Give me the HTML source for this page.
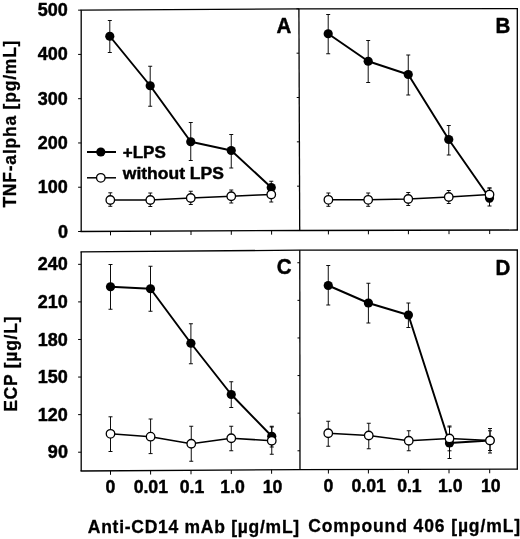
<!DOCTYPE html>
<html><head><meta charset="utf-8"><title>Figure</title>
<style>
html,body{margin:0;padding:0;background:#fff;}
svg{display:block;filter:blur(0.35px);}
text{font-family:"Liberation Sans", Arial, Helvetica, sans-serif;font-weight:bold;fill:#000;stroke:#000;stroke-width:0.45px;stroke-linejoin:round;}
.t{font-size:18px;}
.l{font-size:17px;}
.p{font-size:22.8px;stroke-width:0.5px;}
.x{font-size:17.5px;letter-spacing:0.65px;stroke-width:0.3px;}
</style></head><body>
<svg width="520" height="539" viewBox="0 0 520 539">
<rect width="520" height="539" fill="#fff"/>
<polyline points="80.5,10.15 299.7,8.85 518.0,8.6" stroke="#000" stroke-width="1.3" fill="none"/>
<polyline points="80.5,231.5 299.7,230.5 518.0,230.0" stroke="#000" stroke-width="1.3" fill="none"/>
<polyline points="80.5,251.8 299.7,250.2 518.0,250.0" stroke="#000" stroke-width="1.3" fill="none"/>
<polyline points="80.5,471.0 299.7,469.6 518.0,469.2" stroke="#000" stroke-width="1.3" fill="none"/>
<line x1="81.2" y1="10.15" x2="81.2" y2="231.50" stroke="#000" stroke-width="1.3"/>
<line x1="81.2" y1="251.80" x2="81.2" y2="471.00" stroke="#000" stroke-width="1.3"/>
<line x1="517.3" y1="8.60" x2="517.3" y2="230.00" stroke="#000" stroke-width="1.3"/>
<line x1="517.3" y1="250.00" x2="517.3" y2="469.20" stroke="#000" stroke-width="1.3"/>
<line x1="298.90" y1="8.85" x2="299.71" y2="230.50" stroke="#000" stroke-width="1.3"/>
<line x1="299.78" y1="250.20" x2="300.00" y2="469.60" stroke="#000" stroke-width="1.3"/>
<line x1="78.10" y1="10.15" x2="81.20" y2="10.15" stroke="#000" stroke-width="1"/>
<line x1="296.40" y1="8.85" x2="298.90" y2="8.85" stroke="#000" stroke-width="1"/>
<text transform="translate(67.9 16.18)" text-anchor="end" class="t">500</text>
<line x1="78.10" y1="54.42" x2="81.20" y2="54.42" stroke="#000" stroke-width="1"/>
<line x1="296.56" y1="53.18" x2="299.06" y2="53.18" stroke="#000" stroke-width="1"/>
<text transform="translate(67.9 60.44)" text-anchor="end" class="t">400</text>
<line x1="78.10" y1="98.69" x2="81.20" y2="98.69" stroke="#000" stroke-width="1"/>
<line x1="296.72" y1="97.51" x2="299.22" y2="97.51" stroke="#000" stroke-width="1"/>
<text transform="translate(67.9 104.7)" text-anchor="end" class="t">300</text>
<line x1="78.10" y1="142.96" x2="81.20" y2="142.96" stroke="#000" stroke-width="1"/>
<line x1="296.89" y1="141.84" x2="299.39" y2="141.84" stroke="#000" stroke-width="1"/>
<text transform="translate(67.9 148.97)" text-anchor="end" class="t">200</text>
<line x1="78.10" y1="187.23" x2="81.20" y2="187.23" stroke="#000" stroke-width="1"/>
<line x1="297.05" y1="186.17" x2="299.55" y2="186.17" stroke="#000" stroke-width="1"/>
<text transform="translate(67.9 193.23)" text-anchor="end" class="t">100</text>
<line x1="78.10" y1="231.50" x2="81.20" y2="231.50" stroke="#000" stroke-width="1"/>
<line x1="297.21" y1="230.50" x2="299.71" y2="230.50" stroke="#000" stroke-width="1"/>
<text transform="translate(67.9 237.5)" text-anchor="end" class="t">0</text>
<line x1="78.10" y1="264.33" x2="81.20" y2="264.33" stroke="#000" stroke-width="1"/>
<line x1="297.33" y1="262.74" x2="299.83" y2="262.74" stroke="#000" stroke-width="1"/>
<text transform="translate(67.9 270.38)" text-anchor="end" class="t">240</text>
<line x1="78.10" y1="301.90" x2="81.20" y2="301.90" stroke="#000" stroke-width="1"/>
<line x1="297.47" y1="300.35" x2="299.97" y2="300.35" stroke="#000" stroke-width="1"/>
<text transform="translate(67.9 307.95)" text-anchor="end" class="t">210</text>
<line x1="78.10" y1="339.48" x2="81.20" y2="339.48" stroke="#000" stroke-width="1"/>
<line x1="297.50" y1="337.96" x2="300.00" y2="337.96" stroke="#000" stroke-width="1"/>
<text transform="translate(67.9 345.53)" text-anchor="end" class="t">180</text>
<line x1="78.10" y1="377.06" x2="81.20" y2="377.06" stroke="#000" stroke-width="1"/>
<line x1="297.50" y1="375.57" x2="300.00" y2="375.57" stroke="#000" stroke-width="1"/>
<text transform="translate(67.9 383.1)" text-anchor="end" class="t">150</text>
<line x1="78.10" y1="414.63" x2="81.20" y2="414.63" stroke="#000" stroke-width="1"/>
<line x1="297.50" y1="413.18" x2="300.00" y2="413.18" stroke="#000" stroke-width="1"/>
<text transform="translate(67.9 420.68)" text-anchor="end" class="t">120</text>
<line x1="78.10" y1="452.21" x2="81.20" y2="452.21" stroke="#000" stroke-width="1"/>
<line x1="297.50" y1="450.79" x2="300.00" y2="450.79" stroke="#000" stroke-width="1"/>
<text transform="translate(67.9 458.25)" text-anchor="end" class="t">90</text>
<line x1="110.5" y1="231.37" x2="110.5" y2="235.37" stroke="#000" stroke-width="1"/>
<line x1="110.5" y1="470.81" x2="110.5" y2="474.81" stroke="#000" stroke-width="1"/>
<line x1="150.6" y1="231.18" x2="150.6" y2="235.18" stroke="#000" stroke-width="1"/>
<line x1="150.6" y1="470.56" x2="150.6" y2="474.56" stroke="#000" stroke-width="1"/>
<line x1="191.0" y1="231.00" x2="191.0" y2="235.00" stroke="#000" stroke-width="1"/>
<line x1="191.0" y1="470.30" x2="191.0" y2="474.30" stroke="#000" stroke-width="1"/>
<line x1="231.3" y1="230.81" x2="231.3" y2="234.81" stroke="#000" stroke-width="1"/>
<line x1="231.3" y1="470.04" x2="231.3" y2="474.04" stroke="#000" stroke-width="1"/>
<line x1="271.6" y1="230.63" x2="271.6" y2="234.63" stroke="#000" stroke-width="1"/>
<line x1="271.6" y1="469.78" x2="271.6" y2="473.78" stroke="#000" stroke-width="1"/>
<line x1="328.4" y1="230.43" x2="328.4" y2="234.43" stroke="#000" stroke-width="1"/>
<line x1="328.4" y1="469.55" x2="328.4" y2="473.55" stroke="#000" stroke-width="1"/>
<line x1="368.4" y1="230.34" x2="368.4" y2="234.34" stroke="#000" stroke-width="1"/>
<line x1="368.4" y1="469.47" x2="368.4" y2="473.47" stroke="#000" stroke-width="1"/>
<line x1="408.4" y1="230.25" x2="408.4" y2="234.25" stroke="#000" stroke-width="1"/>
<line x1="408.4" y1="469.40" x2="408.4" y2="473.40" stroke="#000" stroke-width="1"/>
<line x1="449.0" y1="230.16" x2="449.0" y2="234.16" stroke="#000" stroke-width="1"/>
<line x1="449.0" y1="469.33" x2="449.0" y2="473.33" stroke="#000" stroke-width="1"/>
<line x1="489.7" y1="230.06" x2="489.7" y2="234.06" stroke="#000" stroke-width="1"/>
<line x1="489.7" y1="469.25" x2="489.7" y2="473.25" stroke="#000" stroke-width="1"/>
<text transform="translate(110.5 492.9) scale(0.98 1)" text-anchor="middle" class="t">0</text>
<text transform="translate(150.8 492.9) scale(0.98 1)" text-anchor="middle" class="t">0.01</text>
<text transform="translate(192.0 492.9) scale(0.98 1)" text-anchor="middle" class="t">0.1</text>
<text transform="translate(232.6 492.9) scale(0.98 1)" text-anchor="middle" class="t">1.0</text>
<text transform="translate(272.6 492.9) scale(0.98 1)" text-anchor="middle" class="t">10</text>
<text transform="translate(328.4 492.1) scale(0.98 1)" text-anchor="middle" class="t">0</text>
<text transform="translate(368.6 492.1) scale(0.98 1)" text-anchor="middle" class="t">0.01</text>
<text transform="translate(409.4 492.1) scale(0.98 1)" text-anchor="middle" class="t">0.1</text>
<text transform="translate(450.3 492.1) scale(0.98 1)" text-anchor="middle" class="t">1.0</text>
<text transform="translate(490.7 492.1) scale(0.98 1)" text-anchor="middle" class="t">10</text>
<path d="M109.8 20.5V52.5M107.8 20.5H111.8M107.8 52.5H111.8" stroke="#000" stroke-width="0.95" fill="none"/>
<path d="M150.2 66.25V106.25M148.2 66.25H152.2M148.2 106.25H152.2" stroke="#000" stroke-width="0.95" fill="none"/>
<path d="M190.75 122.5V160.5M188.75 122.5H192.75M188.75 160.5H192.75" stroke="#000" stroke-width="0.95" fill="none"/>
<path d="M231.25 134.5V168M229.25 134.5H233.25M229.25 168H233.25" stroke="#000" stroke-width="0.95" fill="none"/>
<path d="M271.25 181.25V196M269.25 181.25H273.25M269.25 196H273.25" stroke="#000" stroke-width="0.95" fill="none"/>
<path d="M109.8 36.25L150.2 85.75L190.75 141.75L231.25 150.5L271.25 187.5" stroke="#000" stroke-width="1.95" fill="none" stroke-linejoin="round"/>
<circle cx="109.8" cy="36.25" r="4.6" fill="#000"/>
<circle cx="150.2" cy="85.75" r="4.6" fill="#000"/>
<circle cx="190.75" cy="141.75" r="4.6" fill="#000"/>
<circle cx="231.25" cy="150.5" r="4.6" fill="#000"/>
<circle cx="271.25" cy="187.5" r="4.6" fill="#000"/>
<path d="M110.3 192.8V206.3M108.3 192.8H112.3M108.3 206.3H112.3" stroke="#000" stroke-width="0.95" fill="none"/>
<path d="M150.3 193V206.5M148.3 193H152.3M148.3 206.5H152.3" stroke="#000" stroke-width="0.95" fill="none"/>
<path d="M190.75 191.25V204.5M188.75 191.25H192.75M188.75 204.5H192.75" stroke="#000" stroke-width="0.95" fill="none"/>
<path d="M231.25 190V203M229.25 190H233.25M229.25 203H233.25" stroke="#000" stroke-width="0.95" fill="none"/>
<path d="M271.25 188V202M269.25 188H273.25M269.25 202H273.25" stroke="#000" stroke-width="0.95" fill="none"/>
<path d="M110.3 200L150.3 200L190.75 198L231.25 196.25L271.25 194.5" stroke="#000" stroke-width="1.55" fill="none" stroke-linejoin="round"/>
<circle cx="110.3" cy="200" r="4.25" fill="#fff" stroke="#000" stroke-width="1.3"/>
<circle cx="150.3" cy="200" r="4.25" fill="#fff" stroke="#000" stroke-width="1.3"/>
<circle cx="190.75" cy="198" r="4.25" fill="#fff" stroke="#000" stroke-width="1.3"/>
<circle cx="231.25" cy="196.25" r="4.25" fill="#fff" stroke="#000" stroke-width="1.3"/>
<circle cx="271.25" cy="194.5" r="4.25" fill="#fff" stroke="#000" stroke-width="1.3"/>
<path d="M328.2 14.5V53.75M326.2 14.5H330.2M326.2 53.75H330.2" stroke="#000" stroke-width="0.95" fill="none"/>
<path d="M368.2 40.5V82.5M366.2 40.5H370.2M366.2 82.5H370.2" stroke="#000" stroke-width="0.95" fill="none"/>
<path d="M408.25 55V95M406.25 55H410.25M406.25 95H410.25" stroke="#000" stroke-width="0.95" fill="none"/>
<path d="M448.75 125.5V155M446.75 125.5H450.75M446.75 155H450.75" stroke="#000" stroke-width="0.95" fill="none"/>
<path d="M489.5 188V206M487.5 188H491.5M487.5 206H491.5" stroke="#000" stroke-width="0.95" fill="none"/>
<path d="M328.2 33.75L368.2 61.25L408.25 74.5L448.75 139.5L489.5 198" stroke="#000" stroke-width="1.95" fill="none" stroke-linejoin="round"/>
<circle cx="328.2" cy="33.75" r="4.6" fill="#000"/>
<circle cx="368.2" cy="61.25" r="4.6" fill="#000"/>
<circle cx="408.25" cy="74.5" r="4.6" fill="#000"/>
<circle cx="448.75" cy="139.5" r="4.6" fill="#000"/>
<circle cx="489.5" cy="198" r="4.6" fill="#000"/>
<path d="M328.4 193V206.3M326.4 193H330.4M326.4 206.3H330.4" stroke="#000" stroke-width="0.95" fill="none"/>
<path d="M368.2 193V206.3M366.2 193H370.2M366.2 206.3H370.2" stroke="#000" stroke-width="0.95" fill="none"/>
<path d="M408.25 192.5V205.5M406.25 192.5H410.25M406.25 205.5H410.25" stroke="#000" stroke-width="0.95" fill="none"/>
<path d="M448.75 190.5V203.5M446.75 190.5H450.75M446.75 203.5H450.75" stroke="#000" stroke-width="0.95" fill="none"/>
<path d="M489.5 188V202M487.5 188H491.5M487.5 202H491.5" stroke="#000" stroke-width="0.95" fill="none"/>
<path d="M328.4 199.8L368.2 199.8L408.25 199L448.75 197L489.5 194.5" stroke="#000" stroke-width="1.55" fill="none" stroke-linejoin="round"/>
<circle cx="328.4" cy="199.8" r="4.25" fill="#fff" stroke="#000" stroke-width="1.3"/>
<circle cx="368.2" cy="199.8" r="4.25" fill="#fff" stroke="#000" stroke-width="1.3"/>
<circle cx="408.25" cy="199" r="4.25" fill="#fff" stroke="#000" stroke-width="1.3"/>
<circle cx="448.75" cy="197" r="4.25" fill="#fff" stroke="#000" stroke-width="1.3"/>
<circle cx="489.5" cy="194.5" r="4.25" fill="#fff" stroke="#000" stroke-width="1.3"/>
<path d="M110.5 264.5V309.25M108.5 264.5H112.5M108.5 309.25H112.5" stroke="#000" stroke-width="0.95" fill="none"/>
<path d="M150.5 266.25V311.25M148.5 266.25H152.5M148.5 311.25H152.5" stroke="#000" stroke-width="0.95" fill="none"/>
<path d="M190.9 323.75V363.75M188.9 323.75H192.9M188.9 363.75H192.9" stroke="#000" stroke-width="0.95" fill="none"/>
<path d="M231.25 381.75V407.5M229.25 381.75H233.25M229.25 407.5H233.25" stroke="#000" stroke-width="0.95" fill="none"/>
<path d="M271.75 426.25V447M269.75 426.25H273.75M269.75 447H273.75" stroke="#000" stroke-width="0.95" fill="none"/>
<path d="M110.5 286.75L150.5 288.75L190.9 343.25L231.25 394.5L271.75 436.25" stroke="#000" stroke-width="1.95" fill="none" stroke-linejoin="round"/>
<circle cx="110.5" cy="286.75" r="4.6" fill="#000"/>
<circle cx="150.5" cy="288.75" r="4.6" fill="#000"/>
<circle cx="190.9" cy="343.25" r="4.6" fill="#000"/>
<circle cx="231.25" cy="394.5" r="4.6" fill="#000"/>
<circle cx="271.75" cy="436.25" r="4.6" fill="#000"/>
<path d="M110.5 416.8V451.5M108.5 416.8H112.5M108.5 451.5H112.5" stroke="#000" stroke-width="0.95" fill="none"/>
<path d="M150.6 419V453.6M148.6 419H152.6M148.6 453.6H152.6" stroke="#000" stroke-width="0.95" fill="none"/>
<path d="M191.25 426.25V461.25M189.25 426.25H193.25M189.25 461.25H193.25" stroke="#000" stroke-width="0.95" fill="none"/>
<path d="M231.25 426.25V450.75M229.25 426.25H233.25M229.25 450.75H233.25" stroke="#000" stroke-width="0.95" fill="none"/>
<path d="M271.75 427V454.25M269.75 427H273.75M269.75 454.25H273.75" stroke="#000" stroke-width="0.95" fill="none"/>
<path d="M110.5 433.8L150.6 436.7L191.25 443.75L231.25 438.25L271.75 440.75" stroke="#000" stroke-width="1.55" fill="none" stroke-linejoin="round"/>
<circle cx="110.5" cy="433.8" r="4.25" fill="#fff" stroke="#000" stroke-width="1.3"/>
<circle cx="150.6" cy="436.7" r="4.25" fill="#fff" stroke="#000" stroke-width="1.3"/>
<circle cx="191.25" cy="443.75" r="4.25" fill="#fff" stroke="#000" stroke-width="1.3"/>
<circle cx="231.25" cy="438.25" r="4.25" fill="#fff" stroke="#000" stroke-width="1.3"/>
<circle cx="271.75" cy="440.75" r="4.25" fill="#fff" stroke="#000" stroke-width="1.3"/>
<path d="M328.25 265.5V305M326.25 265.5H330.25M326.25 305H330.25" stroke="#000" stroke-width="0.95" fill="none"/>
<path d="M368.4 283.25V323M366.4 283.25H370.4M366.4 323H370.4" stroke="#000" stroke-width="0.95" fill="none"/>
<path d="M408.4 303V327.5M406.4 303H410.4M406.4 327.5H410.4" stroke="#000" stroke-width="0.95" fill="none"/>
<path d="M449.5 426V458.5M447.5 426H451.5M447.5 458.5H451.5" stroke="#000" stroke-width="0.95" fill="none"/>
<path d="M490 428.5V453M488.0 428.5H492.0M488.0 453H492.0" stroke="#000" stroke-width="0.95" fill="none"/>
<path d="M328.25 285.5L368.4 303L408.4 315L449.5 443L490 440.5" stroke="#000" stroke-width="1.95" fill="none" stroke-linejoin="round"/>
<circle cx="328.25" cy="285.5" r="4.6" fill="#000"/>
<circle cx="368.4" cy="303" r="4.6" fill="#000"/>
<circle cx="408.4" cy="315" r="4.6" fill="#000"/>
<circle cx="449.5" cy="443" r="4.6" fill="#000"/>
<circle cx="490" cy="440.5" r="4.6" fill="#000"/>
<path d="M328.25 421.25V446.25M326.25 421.25H330.25M326.25 446.25H330.25" stroke="#000" stroke-width="0.95" fill="none"/>
<path d="M368.75 423.25V448.75M366.75 423.25H370.75M366.75 448.75H370.75" stroke="#000" stroke-width="0.95" fill="none"/>
<path d="M408.75 430.75V450.75M406.75 430.75H410.75M406.75 450.75H410.75" stroke="#000" stroke-width="0.95" fill="none"/>
<path d="M449.5 427V450.8M447.5 427H451.5M447.5 450.8H451.5" stroke="#000" stroke-width="0.95" fill="none"/>
<path d="M490 430.8V450.5M488.0 430.8H492.0M488.0 450.5H492.0" stroke="#000" stroke-width="0.95" fill="none"/>
<path d="M328.25 433.25L368.75 435.5L408.75 440.75L449.5 438.5L490 440.5" stroke="#000" stroke-width="1.55" fill="none" stroke-linejoin="round"/>
<circle cx="328.25" cy="433.25" r="4.25" fill="#fff" stroke="#000" stroke-width="1.3"/>
<circle cx="368.75" cy="435.5" r="4.25" fill="#fff" stroke="#000" stroke-width="1.3"/>
<circle cx="408.75" cy="440.75" r="4.25" fill="#fff" stroke="#000" stroke-width="1.3"/>
<circle cx="449.5" cy="438.5" r="4.25" fill="#fff" stroke="#000" stroke-width="1.3"/>
<circle cx="490" cy="440.5" r="4.25" fill="#fff" stroke="#000" stroke-width="1.3"/>
<line x1="87" y1="152" x2="116" y2="152" stroke="#000" stroke-width="2"/>
<circle cx="100.8" cy="152" r="4.6" fill="#000"/>
<text transform="translate(122.8 158.1)" class="l">+LPS</text>
<line x1="87" y1="177.8" x2="116" y2="177.8" stroke="#000" stroke-width="1.5"/>
<circle cx="100.8" cy="177.8" r="4.25" fill="#fff" stroke="#000" stroke-width="1.3"/>
<text transform="translate(122.8 178.8) scale(1.03 1)" class="l">without LPS</text>
<text transform="translate(283.9 32.7) scale(0.9 1)" text-anchor="middle" class="p">A</text>
<text transform="translate(502.9 32.8) scale(0.9 1)" text-anchor="middle" class="p">B</text>
<text transform="translate(284.2 273.8) scale(0.9 1)" text-anchor="middle" class="p">C</text>
<text transform="translate(503.0 274.5) scale(0.9 1)" text-anchor="middle" class="p">D</text>
<text transform="translate(15.9 207.6) rotate(-90)" class="x" style="letter-spacing:0.78px">TNF-alpha [pg/mL]</text>
<text transform="translate(16.8 411.8) rotate(-90)" class="x" style="letter-spacing:0.75px">ECP [µg/L]</text>
<text transform="translate(87.8 532.8)" class="x" style="letter-spacing:0.73px">Anti-CD14 mAb [µg/mL]</text>
<text transform="translate(308.2 531.6)" class="x" style="letter-spacing:0.9px">Compound 406 [µg/mL]</text>
</svg>
</body></html>
